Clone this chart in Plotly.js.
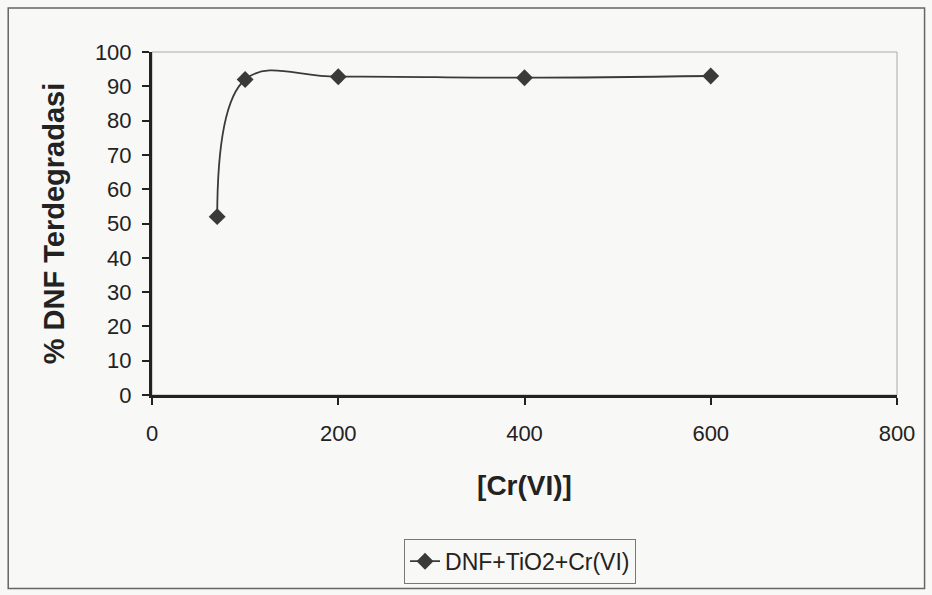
<!DOCTYPE html>
<html>
<head>
<meta charset="utf-8">
<script src="https://cdn.plot.ly/plotly-3.0.1.min.js"></script>
<style>html,body{margin:0;padding:0;background:#f8f8f6;}#chart{width:932px;height:595px;}</style>
</head>
<body>
<div id="chart"></div>
<script>
const crConc = [70, 100, 200, 400, 600];
const degradation = [52, 92, 92.8, 92.5, 93];
const seriesName = 'DNF+TiO2+Cr(VI)';
const xTicks = [0, 200, 400, 600, 800];
const yTicks = [0, 10, 20, 30, 40, 50, 60, 70, 80, 90, 100];

const trace = {
  x: crConc, y: degradation, name: seriesName,
  type: 'scatter', mode: 'lines+markers',
  line: {shape: 'spline', smoothing: 1.1, color: '#3a3a3a', width: 1.8},
  marker: {symbol: 'diamond', size: 13, color: '#3a3a3a'}
};

const layout = {
  width: 932, height: 595,
  paper_bgcolor: '#f8f8f6', plot_bgcolor: 'rgba(0,0,0,0)',
  margin: {l: 152, r: 35, t: 52, b: 199},
  font: {family: 'Liberation Sans, Arial, sans-serif', color: '#222'},
  showlegend: true,
  legend: {orientation: 'h', x: 0.494, xanchor: 'center', y: -0.415, yanchor: 'top',
    bordercolor: '#777', borderwidth: 1, bgcolor: 'rgba(0,0,0,0)',
    font: {size: 23, color: '#222'}},
  xaxis: {range: [0, 800], tickvals: xTicks, ticks: 'outside', ticklen: 7, tickwidth: 2,
    tickcolor: '#222', showline: true, linecolor: '#222', linewidth: 3, showgrid: false,
    zeroline: false, tickfont: {size: 22, color: '#222'}, ticklabelstandoff: 10,
    title: {text: '<b>[Cr(VI)]</b>', font: {size: 28, color: '#222'}, standoff: 30}},
  yaxis: {range: [0, 100], tickvals: yTicks, ticks: 'outside', ticklen: 7, tickwidth: 2,
    tickcolor: '#222', showline: true, linecolor: '#222', linewidth: 3, showgrid: false,
    zeroline: false, tickfont: {size: 22, color: '#222'}, ticklabelstandoff: 6,
    title: {text: '<b>% DNF Terdegradasi</b>', font: {size: 29, color: '#222'}, standoff: 22}},
  shapes: [
    {type: 'rect', xref: 'paper', yref: 'paper', x0: 0, x1: 1, y0: 0, y1: 1,
     line: {color: '#aaa', width: 1}, layer: 'below'},
    {type: 'rect', xref: 'paper', yref: 'paper', x0: -0.193, x1: 1.037, y0: -0.564, y1: 1.128,
     line: {color: '#666', width: 1.5}, layer: 'below'}
  ]
};

Plotly.newPlot('chart', [trace], layout, {staticPlot: true, displayModeBar: false});
</script>
</body>
</html>
